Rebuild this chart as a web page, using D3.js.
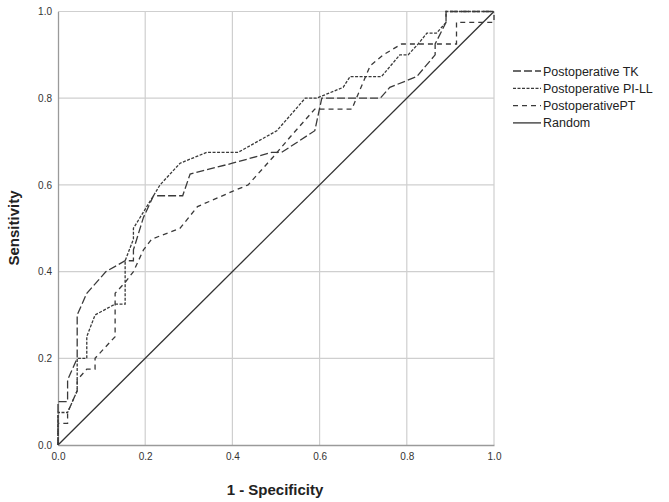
<!DOCTYPE html>
<html><head><meta charset="utf-8">
<script src="https://cdn.jsdelivr.net/npm/d3@7"></script>
<style>body{margin:0;background:#fff;} text{font-family:"Liberation Sans",Arial,sans-serif;}</style>
</head><body><svg id="c" width="669" height="502"></svg>
<script>
const seriesNames = ["Postoperative TK", "Postoperative PI-LL", "PostoperativePT", "Random"];
const tkX = [0,0,0.022,0.022,0.044,0.044,0.066,0.11,0.154,0.173,0.173,0.196,0.219,0.286,0.303,0.40,0.49,0.513,0.589,0.605,0.739,0.761,0.823,0.865,0.865,0.89,0.89,1];
const tkY = [0,0.1,0.1,0.15,0.2,0.3,0.35,0.4,0.425,0.425,0.45,0.525,0.575,0.575,0.625,0.65,0.675,0.675,0.725,0.8,0.8,0.825,0.85,0.9,0.925,0.975,1,1];
const pillX = [0,0,0.022,0.044,0.044,0.066,0.066,0.085,0.131,0.154,0.154,0.173,0.173,0.219,0.234,0.28,0.341,0.413,0.502,0.567,0.593,0.654,0.67,0.742,0.784,0.803,0.826,0.846,0.868,0.89,0.89,1];
const pillY = [0,0.075,0.075,0.125,0.2,0.2,0.25,0.3,0.325,0.325,0.425,0.475,0.5,0.575,0.6,0.65,0.675,0.675,0.725,0.8,0.8,0.825,0.85,0.85,0.9,0.9,0.925,0.95,0.95,0.975,1,1];
const ptX = [0,0,0.022,0.022,0.044,0.044,0.066,0.085,0.085,0.131,0.131,0.154,0.173,0.196,0.215,0.28,0.32,0.40,0.436,0.494,0.532,0.589,0.674,0.716,0.746,0.788,0.914,0.914,1,1];
const ptY = [0,0.05,0.05,0.075,0.125,0.15,0.175,0.175,0.2,0.25,0.35,0.375,0.4,0.45,0.475,0.5,0.55,0.585,0.6,0.665,0.71,0.775,0.775,0.875,0.9,0.925,0.925,0.975,0.975,1];
const randX = [0,1];
const randY = [0,1];
const tickLabels = ["0.0","0.2","0.4","0.6","0.8","1.0"];
const tickVals = [0,0.2,0.4,0.6,0.8,1.0];

const svg = d3.select("#c");
const x = d3.scaleLinear().domain([0,1]).range([58,494]);
const y = d3.scaleLinear().domain([0,1]).range([445,11.5]);

// grid
const g = svg.append("g");
g.selectAll(".gx").data(tickVals.slice(1)).join("line")
  .attr("x1",d=>x(d)).attr("x2",d=>x(d)).attr("y1",y(0)).attr("y2",y(1))
  .attr("stroke","#cfcfcf").attr("stroke-width",1.2);
g.selectAll(".gy").data(tickVals.slice(1)).join("line")
  .attr("y1",d=>y(d)).attr("y2",d=>y(d)).attr("x1",x(0)).attr("x2",x(1))
  .attr("stroke","#cfcfcf").attr("stroke-width",1.2);

// axes
const xAxis = d3.axisBottom(x).tickValues(tickVals).tickFormat((d,i)=>tickLabels[i]).tickSize(0).tickPadding(8);
const yAxis = d3.axisLeft(y).tickValues(tickVals).tickFormat((d,i)=>tickLabels[i]).tickSize(0).tickPadding(6);
const gx = svg.append("g").attr("transform",`translate(0,${y(0)})`).call(xAxis);
const gy = svg.append("g").attr("transform",`translate(${x(0)},0)`).call(yAxis);
[gx,gy].forEach(a=>{
  a.select(".domain").attr("stroke","#9a9a9a").attr("stroke-width",1.3);
  a.selectAll("text").attr("font-size","10px").attr("fill","#333").attr("font-family","Liberation Sans, Arial, sans-serif");
});

// lines
const curves = [
  {name:seriesNames[0], xs:tkX, ys:tkY, dash:"8,3", color:"#3a3a3a"},
  {name:seriesNames[1], xs:pillX, ys:pillY, dash:"3,1.5", color:"#3a3a3a"},
  {name:seriesNames[2], xs:ptX, ys:ptY, dash:"5,4", color:"#3a3a3a"},
  {name:seriesNames[3], xs:randX, ys:randY, dash:null, color:"#333"}
];
const line = d3.line().x(d=>x(d[0])).y(d=>y(d[1]));
curves.forEach(c=>{
  const pts = c.xs.map((v,i)=>[v,c.ys[i]]);
  svg.append("path").attr("d",line(pts)).attr("fill","none")
    .attr("stroke",c.color).attr("stroke-width",1.3)
    .attr("stroke-dasharray",c.dash);
});

// legend
const lg = svg.append("g");
curves.forEach((c,i)=>{
  const yy = 71 + i*17.3;
  lg.append("line").attr("x1",513).attr("x2",541).attr("y1",yy).attr("y2",yy)
    .attr("stroke",c.color).attr("stroke-width",1.3).attr("stroke-dasharray",c.dash);
  lg.append("text").attr("x",543).attr("y",yy+4.5).attr("font-size","12.5px").attr("fill","#222").text(c.name);
});

// axis titles
svg.append("text").attr("x",275).attr("y",495).attr("text-anchor","middle")
  .attr("font-size","15px").attr("font-weight","bold").attr("fill","#222").text("1 - Specificity");
svg.append("text").attr("transform","translate(19,228) rotate(-90)").attr("text-anchor","middle")
  .attr("font-size","15px").attr("font-weight","bold").attr("fill","#222").text("Sensitivity");
</script></body></html>
